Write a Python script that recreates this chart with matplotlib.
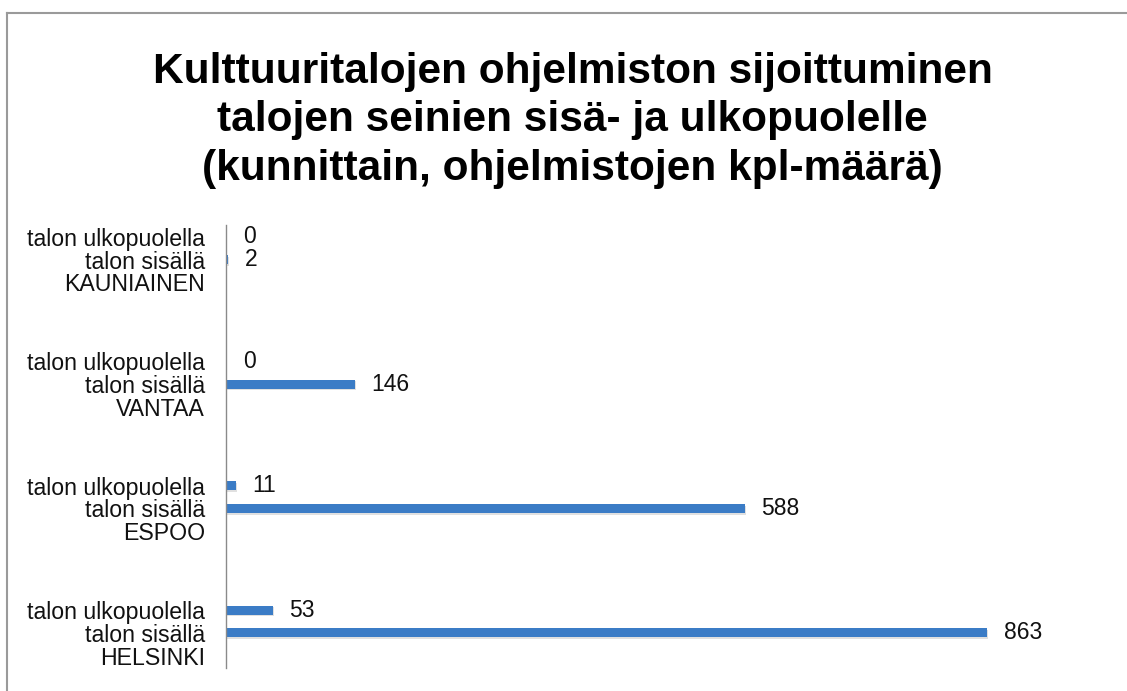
"""
Kulttuuritalojen ohjelmisto: talon sisällä / ulkopuolella, kunnittain
"""

import matplotlib.pyplot as plt
import matplotlib.patheffects as pe
from matplotlib.lines import Line2D

plt.rcParams["font.family"] = ["Liberation Sans", "DejaVu Sans"]

# data (ylhäältä alas)
cities = ["KAUNIAINEN", "VANTAA", "ESPOO", "HELSINKI"]
outside = [0, 0, 11, 53]
inside = [2, 146, 588, 863]
row_labels = ["talon ulkopuolella", "talon sisällä"]

title = ("Kulttuuritalojen ohjelmiston sijoittuminen\n"
         "talojen seinien sisä- ja ulkopuolelle\n"
         "(kunnittain, ohjelmistojen kpl-määrä)")

bar_color = "#3b7cc6"
group_step = 5.5

fig = plt.figure(figsize=(11.27, 6.91), dpi=100)
ax = fig.add_axes([0.2005, 0.0333, 0.7825, 0.6411])

shadow = [pe.SimplePatchShadow(offset=(1, -1.2), shadow_rgbFace="#000000", alpha=0.12),
          pe.Normal()]

ticks = []
labels = []
for i, city in enumerate(cities):
    base = i * group_step
    for j, val in enumerate([outside[i], inside[i]]):
        y = base + j
        b = ax.barh(y, val, height=0.4, color=bar_color)
        for p in b.patches:
            p.set_path_effects(shadow)
        ax.annotate(str(val), xy=(val, y), xytext=(12, 0), textcoords="offset points",
                    va="center", ha="left", fontsize=16.5, color="#111111")
    ticks += [base, base + 1, base + 2]
    labels += [row_labels[0], row_labels[1], city]

ax.set_yticks(ticks)
ax.set_yticklabels(labels, fontsize=16.7, color="#111111")
ax.tick_params(axis="y", length=0, pad=15)
ax.set_xticks([])
ax.set_xlim(0, 1000)
ax.set_ylim((len(cities) - 1) * group_step + 2.55, -0.53)

for s in ["top", "right", "bottom"]:
    ax.spines[s].set_visible(False)
ax.spines["left"].set_color("#8a8a8a")
ax.spines["left"].set_linewidth(1.0)

fig.text(0.508, 0.826, title, ha="center", va="center", fontsize=30.5,
         fontweight="bold", linespacing=1.27, color="#000000")

# kehys
fig.add_artist(Line2D([7 / 1127, 1], [1 - 12.5 / 691, 1 - 12.5 / 691],
                      transform=fig.transFigure, color="#9a9a9a", lw=1.5))
fig.add_artist(Line2D([7 / 1127, 7 / 1127], [0, 1 - 12.5 / 691],
                      transform=fig.transFigure, color="#9a9a9a", lw=1.5))

plt.savefig("out.png", dpi=100)
